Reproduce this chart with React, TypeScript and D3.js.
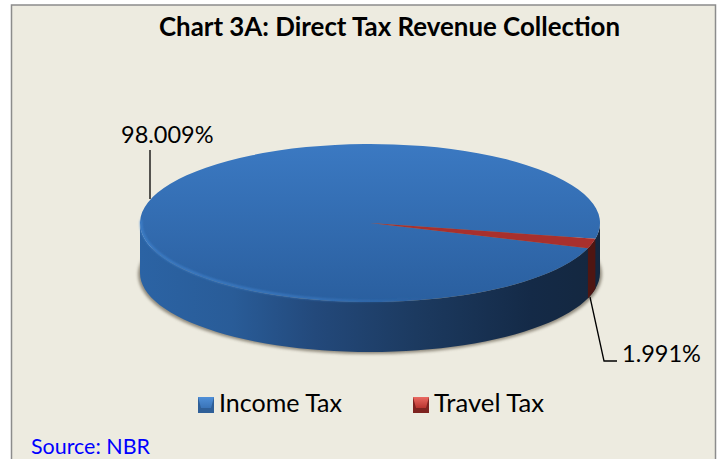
import React from "react";
import * as d3 from "d3";

const title = "Chart 3A: Direct Tax Revenue Collection";
const categories = ["Income Tax", "Travel Tax"];
const values = [98.009, 1.991];
const valueLabels = ["98.009%", "1.991%"];
const source = "Source: NBR";

const W = 718, H = 459;
const cx = 370, cy = 223, rx = 230, ry = 79, depth = 50;
const FONT = "Lato, 'Open Sans', sans-serif";
const DEG = Math.PI / 180;

// travel tax begins just below due east on the ellipse
const travelStart = 101.5 * DEG;
const pieGen = d3.pie<number>().sort(null)
  .startAngle(travelStart + (values[1] / 100) * 2 * Math.PI)
  .endAngle(travelStart + 2 * Math.PI + (values[1] / 100) * 2 * Math.PI);
const arcs = pieGen(values);
const arcGen = d3.arc<any>().innerRadius(0).outerRadius(rx);
const px = (a: number) => cx + rx * Math.sin(a);
const py = (a: number) => cy - ry * Math.cos(a);

function sidePath(a0: number, a1: number) {
  const s = d3.range(0, 61).map((i) => a0 + ((a1 - a0) * i) / 60);
  const line = d3.line<[number, number]>();
  const top = s.map((a) => [px(a), py(a)] as [number, number]);
  const bot = s.slice().reverse().map((a) => [px(a), py(a) + depth] as [number, number]);
  return line([...top, ...bot]) + "Z";
}
function rimPath(a0: number, a1: number, inset: number) {
  const s = d3.range(0, 61).map((i) => a0 + ((a1 - a0) * i) / 60);
  return d3.line<number>()
    .x((a) => cx + (rx - inset) * Math.sin(a))
    .y((a) => cy - (ry - inset) * Math.cos(a))(s) || "";
}

const travelA0 = arcs[1].startAngle % (2 * Math.PI);
const travelA1 = arcs[1].endAngle % (2 * Math.PI);

const legendX = [198, 413];
const legendTextX = [219, 434];
const legendTextLen = [123, 110];

export default function App() {
  return (
    <svg width={W} height={H} style={{ position: "absolute", left: 0, top: 0 }} fontFamily={FONT}>
      <defs>
        <linearGradient id="top" x1="0" y1="0" x2="0" y2="1">
          <stop offset="0" stopColor="#3b79c2" />
          <stop offset="1" stopColor="#2a5f9f" />
        </linearGradient>
        <linearGradient id="side" gradientUnits="userSpaceOnUse" x1={140} x2={600} y1={0} y2={0}>
          <stop offset="0" stopColor="#2b63a4" />
          <stop offset="0.2" stopColor="#295c98" />
          <stop offset="0.38" stopColor="#23497b" />
          <stop offset="0.6" stopColor="#1c3a60" />
          <stop offset="0.85" stopColor="#142a47" />
          <stop offset="1" stopColor="#14273f" />
        </linearGradient>
        <linearGradient id="rim" gradientUnits="userSpaceOnUse" x1={140} x2={430} y1={0} y2={0}>
          <stop offset="0" stopColor="#4285d0" stopOpacity={0.9} />
          <stop offset="0.6" stopColor="#4285d0" stopOpacity={0.7} />
          <stop offset="1" stopColor="#3a78bc" stopOpacity={0} />
        </linearGradient>
        <linearGradient id="swB" x1="0" y1="0" x2="0" y2="1">
          <stop offset="0" stopColor="#4f8fd8" />
          <stop offset="1" stopColor="#3a74b8" />
        </linearGradient>
        <linearGradient id="swR" x1="0" y1="0" x2="0" y2="1">
          <stop offset="0" stopColor="#ea6a62" />
          <stop offset="1" stopColor="#b9342f" />
        </linearGradient>
        <filter id="blur" x="-10%" y="-10%" width="120%" height="120%">
          <feGaussianBlur stdDeviation="1.6" />
        </filter>
        <filter id="soft" x="-5%" y="-5%" width="110%" height="110%">
          <feGaussianBlur stdDeviation="0.9" />
        </filter>
      </defs>

      <rect x={0} y={0} width={W} height={H} fill="#ffffff" />
      <rect x={11.5} y={5} width={704} height={H + 10} fill="#edebe0" stroke="#8c8c8c" strokeWidth={1.5} />

      <text x={389.5} y={36} textAnchor="middle" fontSize={26} fontWeight={700} fill="#000"
        textLength={461} lengthAdjust="spacingAndGlyphs">{title}</text>

      {/* shadow */}
      <ellipse cx={cx} cy={cy + depth + 1.5} rx={rx + 2} ry={ry + 0.5} fill="#6b6455" opacity={0.7} filter="url(#blur)" />

      {/* side wall */}
      <path d={sidePath(90 * DEG, 270 * DEG)} fill="url(#side)" />
      <path d={sidePath(travelA0, travelA1)} fill="#4f1612" />

      {/* top face */}
      <g transform={`translate(${cx},${cy}) scale(1,${ry / rx})`}>
        {arcs.map((d, i) => (
          <path key={categories[i]} d={arcGen(d) || ""} fill={i === 0 ? "url(#top)" : "#a8302d"} />
        ))}
      </g>
      <path d={rimPath(130 * DEG, 272 * DEG, 1)} fill="none" stroke="url(#rim)" strokeWidth={2} filter="url(#soft)" />

      {/* leader lines */}
      <path d={d3.line()([[150, 150], [150, 199]]) || ""} fill="none" stroke="#000" strokeWidth={1.3} />
      <path d={d3.line()([[590, 297], [604, 361], [617, 361]]) || ""} fill="none" stroke="#000" strokeWidth={1.3} />

      <text x={121} y={143} fontSize={23.5} fill="#000">{valueLabels[0]}</text>
      <text x={622} y={362} fontSize={23.5} fill="#000">{valueLabels[1]}</text>

      {/* legend */}
      {categories.map((c, i) => (
        <g key={c}>
          <rect x={legendX[i]} y={397} width={16} height={16} fill={i === 0 ? "#2f5f98" : "#7e2320"} />
          <path d={`M${legendX[i]},397h16l-3,11h-10Z`} fill={i === 0 ? "url(#swB)" : "url(#swR)"} />
          <text x={legendTextX[i]} y={412} fontSize={25} fill="#000"
            textLength={legendTextLen[i]} lengthAdjust="spacingAndGlyphs">{c}</text>
        </g>
      ))}

      <text x={31} y={454} fontSize={22} fill="#0000ff" textLength={119} lengthAdjust="spacingAndGlyphs">{source}</text>
    </svg>
  );
}
